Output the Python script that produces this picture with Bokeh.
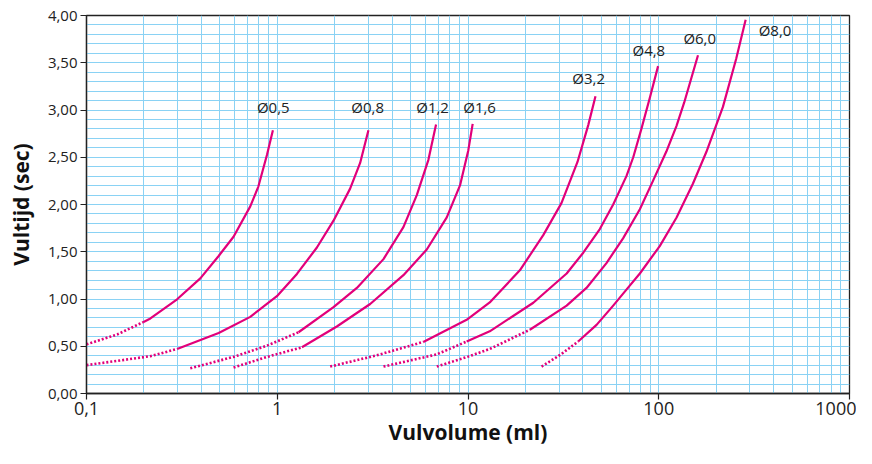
from bokeh.plotting import figure
from bokeh.models import FixedTicker, CustomJSTickFormatter
from bokeh.core.properties import value
from bokeh.embed import file_html
from bokeh.resources import INLINE

# ---- data ----
x_ticks = [0.1, 1, 10, 100, 1000]
x_tick_labels = ["0,1", "1", "10", "100", "1000"]
y_ticks = [0.0, 0.5, 1.0, 1.5, 2.0, 2.5, 3.0, 3.5, 4.0]

# Ø0,5
d05_dot_x = [0.1, 0.145, 0.198]
d05_dot_y = [0.52, 0.625, 0.755]
d05_x = [0.198, 0.2163, 0.2985, 0.395, 0.493, 0.59, 0.722, 0.796, 0.883, 0.949]
d05_y = [0.755, 0.794, 0.997, 1.218, 1.455, 1.659, 1.98, 2.19, 2.524, 2.786]
# Ø0,8
d08_dot_x = [0.1, 0.177, 0.2163, 0.2985]
d08_dot_y = [0.30, 0.37, 0.395, 0.471]
d08_x = [0.2985, 0.493, 0.722, 0.996, 1.268, 1.614, 1.972, 2.41, 2.72, 3.006]
d08_y = [0.471, 0.641, 0.811, 1.03, 1.265, 1.545, 1.829, 2.168, 2.44, 2.786]
# Ø1,2
d12_dot_x = [0.35, 0.59, 0.883, 1.293]
d12_dot_y = [0.268, 0.387, 0.506, 0.648]
d12_x = [1.293, 1.972, 2.615, 3.605, 4.585, 5.39, 6.20, 6.80]
d12_y = [0.648, 0.913, 1.117, 1.422, 1.761, 2.10, 2.473, 2.847]
# Ø1,6
d16_dot_x = [0.59, 0.883, 1.347]
d16_dot_y = [0.275, 0.387, 0.489]
d16_x = [1.347, 2.053, 3.07, 4.585, 6.08, 7.74, 9.08, 10.04, 10.58]
d16_y = [0.489, 0.709, 0.947, 1.252, 1.524, 1.863, 2.202, 2.575, 2.853]
# Ø3,2
d32_dot_x = [1.894, 3.325, 5.83]
d32_dot_y = [0.285, 0.404, 0.546]
d32_x = [5.83, 9.84, 13.0, 18.7, 24.8, 30.9, 37.5, 42.7, 46.6]
d32_y = [0.546, 0.78, 0.964, 1.303, 1.676, 2.015, 2.45, 2.84, 3.145]
# Ø4,8
d48_dot_x = [3.605, 6.86, 9.84]
d48_dot_y = [0.285, 0.414, 0.55]
d48_x = [9.84, 13.0, 22.0, 32.9, 40.2, 49.1, 57.7, 67.7, 73.5, 81.1, 89.8, 99.2]
d48_y = [0.55, 0.658, 0.96, 1.27, 1.49, 1.74, 2.0, 2.30, 2.50, 2.80, 3.13, 3.464]
# Ø6,0
d60_dot_x = [6.86, 10.0, 13.0, 21.1]
d60_dot_y = [0.285, 0.39, 0.471, 0.675]
d60_x = [21.1, 32.9, 41.8, 53.2, 65.0, 79.6, 93.4, 109.6, 123.8, 136.0, 160.6]
d60_y = [0.675, 0.93, 1.117, 1.38, 1.642, 1.95, 2.253, 2.56, 2.83, 3.08, 3.58]
# Ø8,0
d80_dot_x = [24.3, 30.5, 37.8]
d80_dot_y = [0.285, 0.41, 0.55]
d80_x = [37.8, 47.2, 57.7, 67.7, 79.6, 101.2, 123.8, 151.0, 177.8, 217.0, 254.7, 285.5]
d80_y = [0.55, 0.726, 0.93, 1.099, 1.27, 1.56, 1.86, 2.22, 2.558, 3.033, 3.542, 3.956]

label_text = ["Ø0,5", "Ø0,8", "Ø1,2", "Ø1,6", "Ø3,2", "Ø4,8", "Ø6,0", "Ø8,0"]
label_x = [0.953, 2.98, 6.52, 11.5, 42.9, 88.7, 164.0, 407.0]
label_y = [3.03, 3.03, 3.03, 3.03, 3.34, 3.64, 3.76, 3.85]

dotted = [(d05_dot_x, d05_dot_y), (d08_dot_x, d08_dot_y), (d12_dot_x, d12_dot_y),
          (d16_dot_x, d16_dot_y), (d32_dot_x, d32_dot_y), (d48_dot_x, d48_dot_y),
          (d60_dot_x, d60_dot_y), (d80_dot_x, d80_dot_y)]
solid = [(d05_x, d05_y), (d08_x, d08_y), (d12_x, d12_y), (d16_x, d16_y),
         (d32_x, d32_y), (d48_x, d48_y), (d60_x, d60_y), (d80_x, d80_y)]

# ---- styles ----
MAG = "#e2007a"
GRID = "#8ad2f4"
FONT = "Open Sans"

p = figure(width=856, height=448, x_axis_type="log",
           x_range=(0.1, 1000), y_range=(0, 4),
           output_backend="svg", toolbar_location=None,
           min_border_left=86, min_border_right=7,
           min_border_top=15, min_border_bottom=0)

p.outline_line_color = "#222222"
p.outline_line_width = 1.3
p.background_fill_color = "white"
p.border_fill_color = "white"

x_minor = [k * d for d in [0.1, 1, 10, 100] for k in range(2, 10)]
y_minor = [i / 10 for i in range(1, 40) if i % 5 != 0]

p.xaxis.ticker = FixedTicker(ticks=x_ticks, minor_ticks=x_minor)
p.yaxis.ticker = FixedTicker(ticks=y_ticks, minor_ticks=y_minor)
p.xaxis.major_label_overrides = {t: s for t, s in zip(x_ticks, x_tick_labels)}
p.yaxis.formatter = CustomJSTickFormatter(code="return tick.toFixed(2).replace('.', ',');")

for g in (p.xgrid, p.ygrid):
    g.grid_line_color = GRID
    g.grid_line_width = 1
    g.minor_grid_line_color = GRID
    g.minor_grid_line_width = 1

for ax in (p.xaxis, p.yaxis):
    ax.axis_line_color = "#222222"
    ax.axis_line_width = 1.3
    ax.major_tick_line_color = "#222222"
    ax.major_tick_line_width = 1.2
    ax.major_tick_in = 0
    ax.major_tick_out = 6
    ax.minor_tick_line_color = None
    ax.major_label_text_font = FONT
    ax.major_label_text_color = "#222222"
    ax.axis_label_text_font = FONT
    ax.axis_label_text_color = "#111111"
    ax.axis_label_text_font_style = "bold"

p.xaxis.major_label_text_font_size = "18px"
p.xaxis.major_label_standoff = 2
p.xaxis.axis_label = "Vulvolume (ml)"
p.xaxis.axis_label_text_font_size = "21px"
p.xaxis.axis_label_standoff = 0

p.yaxis.major_label_text_font_size = "15px"
p.yaxis.major_label_standoff = 3
p.yaxis.axis_label = "Vultijd (sec)"
p.yaxis.axis_label_text_font_size = "21px"
p.yaxis.axis_label_standoff = 10

for xs, ys in dotted:
    p.line(xs, ys, line_color=MAG, line_width=2.6, line_dash="2 2", line_cap="butt")
for xs, ys in solid:
    p.line(xs, ys, line_color=MAG, line_width=2.2, line_join="round")

p.text(x=label_x, y=label_y, text=label_text, text_font=value(FONT),
       text_font_size="15px", text_align="center", text_baseline="middle",
       text_color="#222222")

open("out.html", "w").write(file_html(p, INLINE))
